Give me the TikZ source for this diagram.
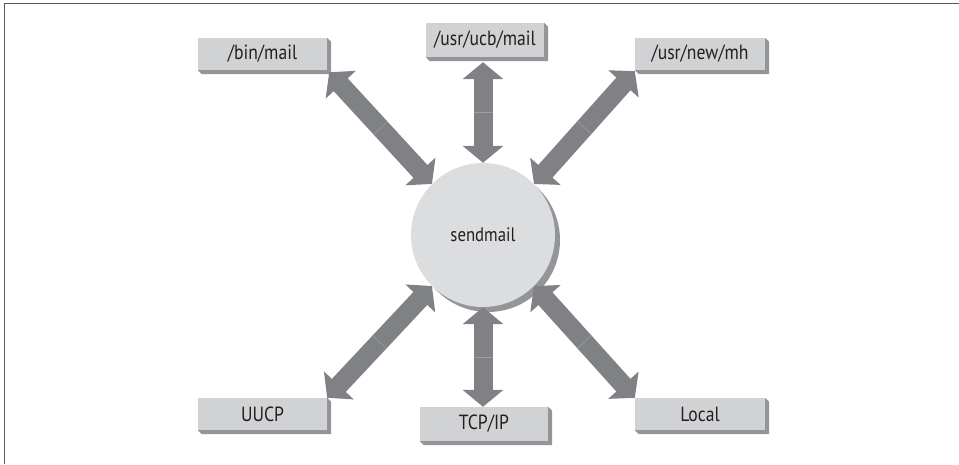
\documentclass[tikz,border=0pt]{standalone}
\usepackage{fontspec}
\setmainfont{PT Sans}[FakeStretch=0.86]
\usetikzlibrary{arrows.meta,calc}
\definecolor{arrowgray}{HTML}{808184}
\definecolor{seamgray}{HTML}{9C9DA0}
\definecolor{boxface}{HTML}{D1D2D4}
\definecolor{boxside}{HTML}{939598}
\definecolor{circface}{HTML}{DCDDDE}
\definecolor{framegray}{HTML}{5A5A5A}
\definecolor{txt}{HTML}{231F20}
\begin{document}
\begin{tikzpicture}[x=1pt,y=-1pt,
  box/.style={fill=boxface, minimum width=129pt, minimum height=32pt, inner sep=0pt,
    text=txt, font=\fontsize{20.5}{24}\selectfont},
  side/.style={fill=boxside},
  hub/.style={circle, fill=circface, minimum size=144pt, inner sep=0pt, text=txt,
    font=\fontsize{19.5}{22}\selectfont},
  conn/.style={draw=arrowgray, line width=19pt,
    {Triangle[width=40pt,length=17pt]}-{Triangle[width=40pt,length=17pt]}},
  seam/.style={draw=seamgray, line width=0.6pt}]
\useasboundingbox (0,0) rectangle (959,464);
\draw[framegray, line width=1.5pt] (4.5,464) -- (4.5,3.5) -- (959,3.5);
% hub with its shadow
\fill[boxside] (488,240) circle (72pt);
\node[hub] (c) at (483,235) {sendmail};
% boxes
\node[box] (bin) at (262.5,54) {/bin/mail};
\node[box, minimum width=118pt, minimum height=34pt] (ucb) at (485,40) {/usr/ucb/mail};
\node[box, minimum width=130pt] (mh) at (700,54) {/usr/new/mh};
\node[box] (uucp) at (262.5,414) {UUCP};
\node[box, minimum width=128pt, minimum height=34pt] (tcp) at (484,424) {TCP/IP};
\node[box, minimum width=130pt] (local) at (700,414) {Local};
\foreach \n in {bin,ucb,mh,uucp,tcp,local}{
  \fill[side] (\n.north east) -- ++(4,4) -- ($(\n.south east)+(4,4)$)
    -- ($(\n.south west)+(4,4)$) -- (\n.south west) -- (\n.south east) -- cycle;
}
% connectors
\coordinate (pbin) at ($(bin.south east)+(2,2)$);
\coordinate (pucb) at ($(c.north |- ucb.south)+(0,5)$);
\coordinate (pmh) at ($(mh.south west)+(0,1)$);
\coordinate (ptcp) at (c.south |- tcp.north);
\draw[conn] (pbin) -- (c.135);
\draw[conn] (pucb) -- (c.north);
\draw[conn] (pmh) -- (c.45);
\draw[conn] (uucp.north east) -- (c.225);
\draw[conn] (ptcp) -- (c.south);
\draw[conn] (local.north west) -- (c.315);
% seams where the two halves of each arrow meet
\foreach \a/\b in {pbin/c.135, pucb/c.north, pmh/c.45, uucp.north east/c.225, ptcp/c.south, local.north west/c.315}{
  \coordinate (m) at ($(\a)!.5!(\b)$);
  \draw[seam] ($(m)!9.5pt!90:(\b)$) -- ($(m)!9.5pt!-90:(\b)$);
}
\end{tikzpicture}
\end{document}
